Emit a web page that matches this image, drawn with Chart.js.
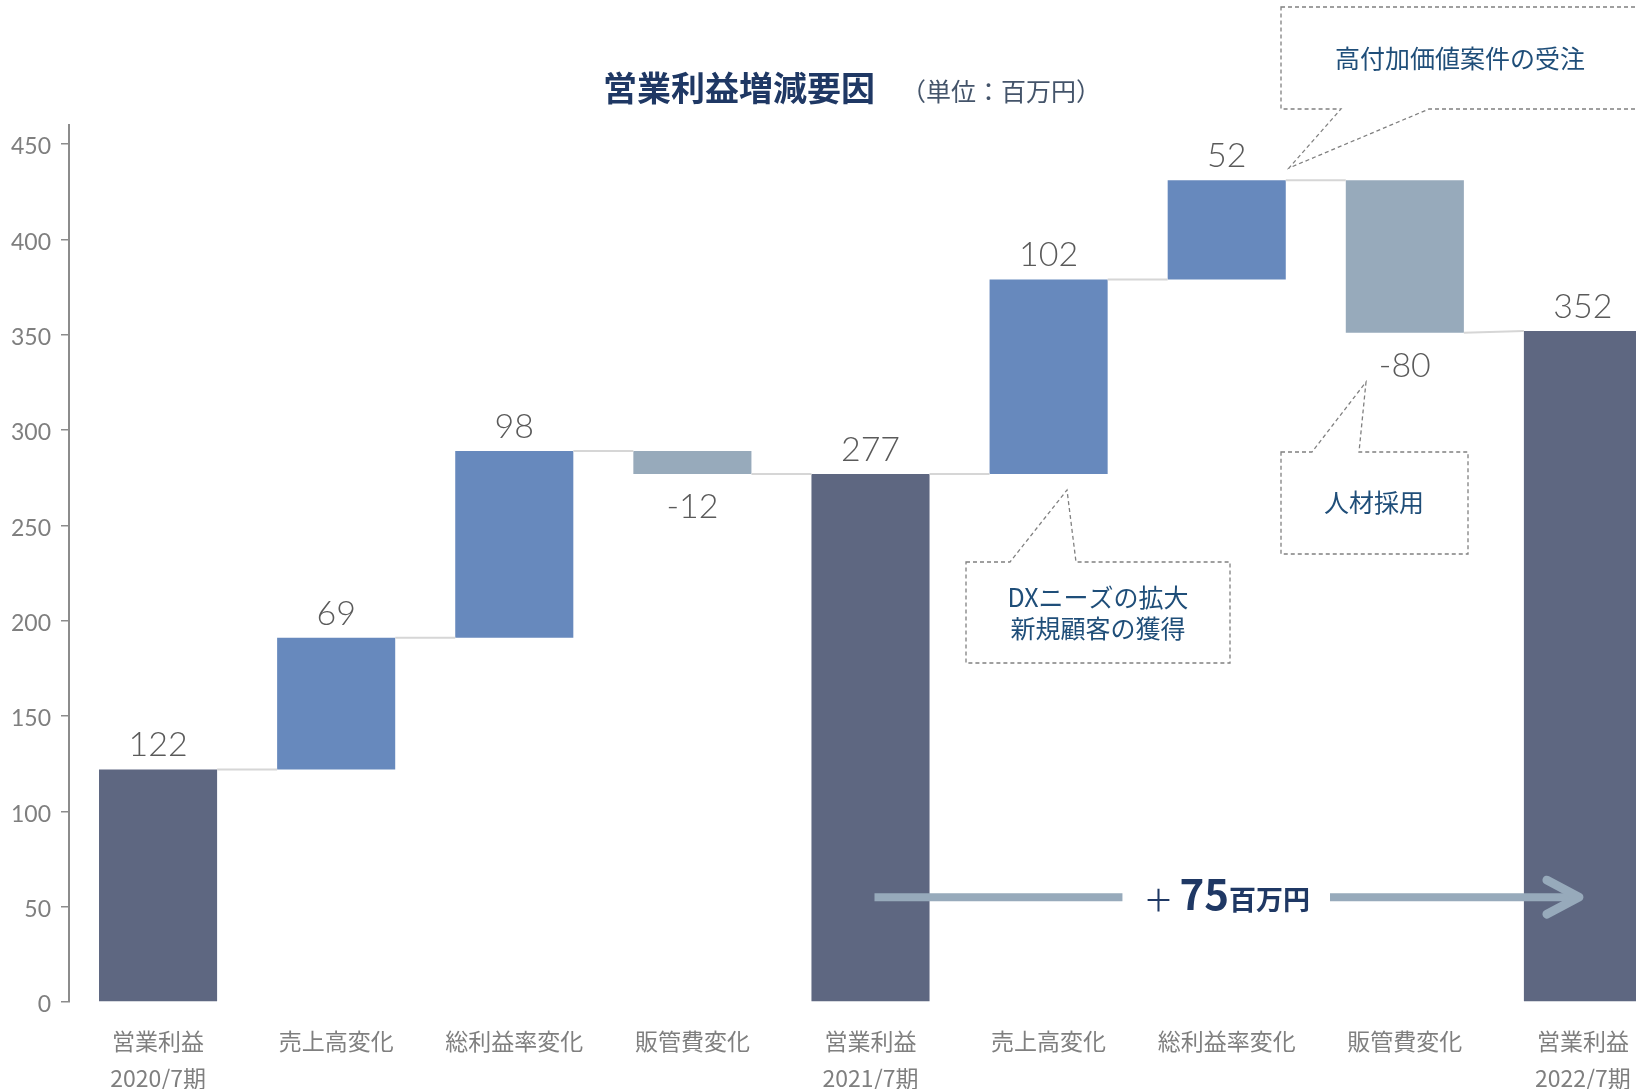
<!DOCTYPE html>
<html lang="ja">
<head>
<meta charset="utf-8">
<title>営業利益増減要因</title>
<script src="https://cdn.jsdelivr.net/npm/chart.js@4.4.1/dist/chart.umd.min.js"></script>
<style>
  html, body { margin: 0; padding: 0; background: #fff; overflow: hidden; }
  #wrap { width: 1636px; height: 1089px; overflow: hidden; position: relative; }
  canvas { display: block; }
</style>
</head>
<body>
<div id="wrap"><canvas id="chart" width="1672" height="1089"></canvas></div>
<script>
// data
const categories = [
  ['営業利益', '2020/7期'], '売上高変化', '総利益率変化', '販管費変化',
  ['営業利益', '2021/7期'], '売上高変化', '総利益率変化', '販管費変化',
  ['営業利益', '2022/7期']
];
const values = [122, 69, 98, -12, 277, 102, 52, -80, 352];
const kinds = ['total', 'up', 'up', 'down', 'total', 'up', 'up', 'down', 'total'];
const yTicks = [0, 50, 100, 150, 200, 250, 300, 350, 400, 450];
const diffText = '75';

const colors = { total: '#5e6781', up: '#6789bd', down: '#97aabb' };
const NAVY = '#1f3864';
const NOTE = '#1f4e79';

// floating ranges from running total
let run = 0;
const ranges = values.map((v, i) => {
  if (kinds[i] === 'total') { run = v; return [0, v]; }
  const start = run;
  run += v;
  return [start, run];
});

const callouts = [
  { lines: ['高付加価値案件の受注'], box: [1281, 7, 1645, 109], side: 'bottom', base: [1341, 1429], tip: [1289, 168], text: [1460, 58] },
  { lines: ['DXニーズの拡大', '新規顧客の獲得'], box: [966, 562, 1230, 663], side: 'top', base: [1010, 1076], tip: [1067, 490], text: [1098, 597] },
  { lines: ['人材採用'], box: [1281, 452, 1468, 554], side: 'top', base: [1312, 1359], tip: [1366, 382], text: [1374, 502] }
];
const arrowAt = 55;

const numFont = '"Lato", "Noto Sans CJK JP", sans-serif';
const jpFont = '"Noto Sans CJK JP", sans-serif';

const waterfallPlugin = {
  id: 'waterfall',
  afterDatasetsDraw(chart) {
    const ctx = chart.ctx;
    const y = chart.scales.y;
    const bars = chart.getDatasetMeta(0).data;

    // connectors
    ctx.save();
    ctx.strokeStyle = '#d6d6d6';
    ctx.lineWidth = 2;
    for (let i = 0; i < bars.length - 1; i++) {
      const endV = ranges[i][1];
      const nextV = kinds[i + 1] === 'total' ? ranges[i + 1][1] : ranges[i + 1][0];
      const x0 = bars[i].x + bars[i].width / 2;
      const x1 = bars[i + 1].x - bars[i + 1].width / 2;
      ctx.beginPath();
      ctx.moveTo(x0, y.getPixelForValue(endV));
      ctx.lineTo(x1, y.getPixelForValue(nextV));
      ctx.stroke();
    }
    ctx.restore();

    // value labels
    ctx.save();
    ctx.fillStyle = '#5a5a5a';
    ctx.font = '300 34px ' + numFont;
    ctx.textAlign = 'center';
    ctx.textBaseline = 'middle';
    bars.forEach((b, i) => {
      const hi = Math.max(...ranges[i]);
      const lo = Math.min(...ranges[i]);
      if (kinds[i] === 'down') {
        ctx.fillText(String(values[i]), b.x, y.getPixelForValue(lo) + 33);
      } else {
        ctx.fillText(String(values[i]), b.x, y.getPixelForValue(hi) - 24);
      }
    });
    ctx.restore();
  },
  afterDraw(chart) {
    const ctx = chart.ctx;
    const y = chart.scales.y;
    const bars = chart.getDatasetMeta(0).data;

    // title
    ctx.save();
    ctx.textBaseline = 'middle';
    ctx.textAlign = 'left';
    ctx.fillStyle = NAVY;
    ctx.font = 'bold 34px ' + jpFont;
    ctx.fillText('営業利益増減要因', 603, 88);
    ctx.fillStyle = '#44546a';
    ctx.font = '25px ' + jpFont;
    ctx.fillText('（単位：百万円）', 901, 91);
    ctx.restore();

    // callouts
    ctx.save();
    ctx.strokeStyle = '#808080';
    ctx.lineWidth = 1.3;
    ctx.setLineDash([4, 3]);
    callouts.forEach(c => {
      const [x0, y0, x1, y1] = c.box;
      ctx.beginPath();
      if (c.side === 'top') {
        ctx.moveTo(x0, y0);
        ctx.lineTo(c.base[0], y0);
        ctx.lineTo(c.tip[0], c.tip[1]);
        ctx.lineTo(c.base[1], y0);
        ctx.lineTo(x1, y0);
        ctx.lineTo(x1, y1);
        ctx.lineTo(x0, y1);
      } else {
        ctx.moveTo(x0, y0);
        ctx.lineTo(x1, y0);
        ctx.lineTo(x1, y1);
        ctx.lineTo(c.base[1], y1);
        ctx.lineTo(c.tip[0], c.tip[1]);
        ctx.lineTo(c.base[0], y1);
        ctx.lineTo(x0, y1);
      }
      ctx.closePath();
      ctx.stroke();
    });
    ctx.setLineDash([]);
    ctx.fillStyle = NOTE;
    ctx.font = '25px ' + jpFont;
    ctx.textAlign = 'center';
    ctx.textBaseline = 'middle';
    callouts.forEach(c => {
      c.lines.forEach((t, k) => ctx.fillText(t, c.text[0], c.text[1] + k * 31));
    });
    ctx.restore();

    // +75 arrow between the two latest totals
    const xa = bars[4].x + 4;
    const xb = bars[8].x - 4;
    const ya = y.getPixelForValue(arrowAt);
    const mid = (xa + xb) / 2;
    ctx.save();
    ctx.fillStyle = NAVY;
    ctx.textAlign = 'left';
    ctx.font = '30px ' + jpFont;
    const wPlus = ctx.measureText('＋').width;
    ctx.font = 'bold 42px ' + jpFont;
    const wNum = ctx.measureText(diffText).width;
    ctx.font = 'bold 27px ' + jpFont;
    const wUnit = ctx.measureText('百万円').width;
    const gap = 6;
    const total = wPlus + gap + wNum + wUnit;
    let tx = mid - total / 2;
    ctx.font = '30px ' + jpFont;
    ctx.textBaseline = 'middle';
    ctx.fillText('＋', tx, ya + 2);
    tx += wPlus + gap;
    ctx.textBaseline = 'alphabetic';
    ctx.font = 'bold 42px ' + jpFont;
    ctx.fillText(diffText, tx, ya + 13);
    tx += wNum;
    ctx.font = 'bold 27px ' + jpFont;
    ctx.fillText('百万円', tx, ya + 13);

    ctx.strokeStyle = '#97aabb';
    ctx.lineWidth = 8;
    ctx.lineCap = 'butt';
    ctx.beginPath();
    ctx.moveTo(xa, ya);
    ctx.lineTo(mid - total / 2 - 21, ya);
    ctx.moveTo(mid + total / 2 + 20, ya);
    ctx.lineTo(xb - 4, ya);
    ctx.stroke();
    ctx.lineWidth = 9;
    ctx.lineCap = 'round';
    ctx.lineJoin = 'round';
    ctx.beginPath();
    ctx.moveTo(xb - 32, ya - 17);
    ctx.lineTo(xb, ya);
    ctx.lineTo(xb - 32, ya + 17);
    ctx.stroke();
    ctx.restore();
  }
};

new Chart(document.getElementById('chart'), {
  type: 'bar',
  data: {
    labels: categories,
    datasets: [{
      data: ranges,
      backgroundColor: kinds.map(k => colors[k]),
      borderWidth: 0,
      barPercentage: 0.663,
      categoryPercentage: 1
    }]
  },
  options: {
    responsive: false,
    animation: false,
    layout: { padding: { top: 125, left: 0, right: 0, bottom: 0 } },
    plugins: {
      legend: { display: false },
      tooltip: { enabled: false },
      title: { display: false }
    },
    scales: {
      x: {
        offset: true,
        grid: { display: false, drawTicks: false },
        border: { display: false },
        ticks: {
          color: '#7f7f7f',
          font: { family: jpFont, size: 23, lineHeight: 1.6 },
          padding: 21,
          maxRotation: 0,
          autoSkip: false
        },
        afterFit: s => { s.height = 87; }
      },
      y: {
        min: 0,
        max: 460,
        afterBuildTicks: s => { s.ticks = yTicks.map(v => ({ value: v })); },
        grid: { drawOnChartArea: false, drawTicks: true, tickLength: 8, color: '#8c8c8c', lineWidth: 1.5 },
        border: { display: true, color: '#8c8c8c', width: 2 },
        ticks: {
          color: '#7f7f7f',
          font: { family: numFont, size: 23 },
          padding: 10,
          labelOffset: 3
        },
        afterFit: s => { s.width = 69; }
      }
    }
  },
  plugins: [waterfallPlugin]
});
</script>
</body>
</html>
